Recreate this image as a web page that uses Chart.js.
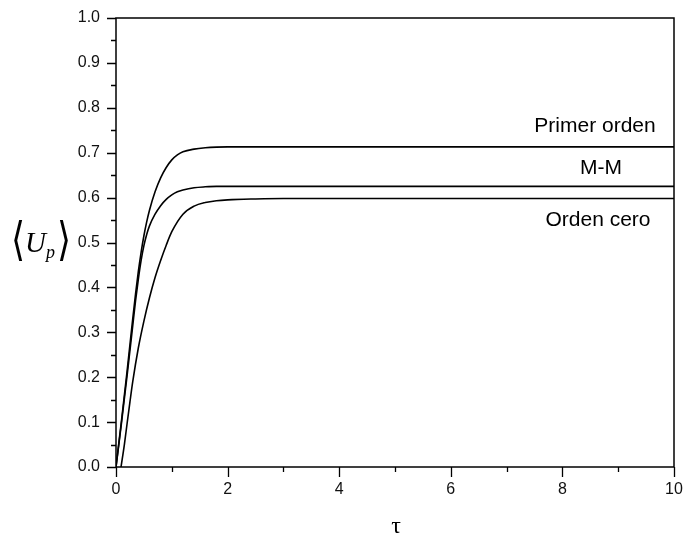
<!DOCTYPE html>
<html>
<head>
<meta charset="utf-8">
<script src="https://cdn.jsdelivr.net/npm/chart.js@4"></script>
<style>
  html, body { margin: 0; padding: 0; background: #fff; }
  #chart { display: block; }
</style>
</head>
<body>
<canvas id="chart" width="685" height="542"></canvas>
<script>
    // Values (tau on x, <Up> on y)
    const primerTau = [0, 0.1, 0.2, 0.3, 0.35, 0.4, 0.45, 0.5, 0.55, 0.6, 0.7, 0.8, 0.9, 1.0, 1.1, 1.2, 1.4, 1.6, 1.8, 2.0, 2.5, 3, 4, 6, 8, 10];
    const primerU = [0, 0.105, 0.215, 0.33, 0.385, 0.435, 0.478, 0.515, 0.546, 0.572, 0.613, 0.644, 0.667, 0.684, 0.695, 0.702, 0.708, 0.711, 0.7125, 0.713, 0.713, 0.713, 0.713, 0.713, 0.713, 0.713];

    const mmTau = [0, 0.1, 0.2, 0.3, 0.35, 0.4, 0.45, 0.5, 0.55, 0.6, 0.7, 0.8, 0.9, 1.0, 1.1, 1.2, 1.4, 1.6, 1.8, 2.0, 2.5, 3, 4, 6, 8, 10];
    const mmU = [0, 0.10, 0.205, 0.315, 0.37, 0.418, 0.46, 0.493, 0.518, 0.537, 0.563, 0.582, 0.596, 0.606, 0.613, 0.617, 0.622, 0.624, 0.625, 0.625, 0.625, 0.625, 0.625, 0.625, 0.625, 0.625];

    const ceroTau = [0.09, 0.15, 0.2, 0.25, 0.3, 0.4, 0.5, 0.6, 0.7, 0.8, 0.9, 1.0, 1.2, 1.4, 1.6, 1.8, 2.0, 2.5, 3, 4, 6, 8, 10];
    const ceroU = [0, 0.05, 0.098, 0.145, 0.19, 0.265, 0.325, 0.377, 0.422, 0.46, 0.494, 0.524, 0.563, 0.581, 0.589, 0.593, 0.595, 0.597, 0.598, 0.598, 0.598, 0.598, 0.598];

    const seriesNames = ['Primer orden', 'M-M', 'Orden cero'];

    // axis ranges and tick steps
    const xRange = [0, 10];
    const yRange = [0, 1];
    const xMajorStep = 2;
    const xMinorStep = 1;
    const yMajorStep = 0.1;
    const yMinorStep = 0.05;

    function toPoints(xs, ys) {
        return xs.map((x, i) => ({ x: x, y: ys[i] }));
    }

    const tickFont = { family: '"Liberation Sans", Arial, sans-serif', size: 16 };

    // frame, minor/major tick marks and the annotation texts
    const framePlugin = {
        id: 'frame',
        afterDraw(chart) {
            const ctx = chart.ctx;
            const area = chart.chartArea;
            const xs = chart.scales.x;
            const ys = chart.scales.y;
            ctx.save();
            ctx.strokeStyle = '#000';
            ctx.lineWidth = 1.5;
            ctx.strokeRect(area.left, area.top, area.right - area.left, area.bottom - area.top);

            ctx.lineWidth = 1.3;
            ctx.beginPath();
            const nY = Math.round((yRange[1] - yRange[0]) / yMinorStep);
            for (let i = 0; i <= nY; i++) {
                const py = Math.round(ys.getPixelForValue(yRange[0] + i * yMinorStep)) + 0.5;
                const len = i % 2 === 0 ? 9 : 5;
                ctx.moveTo(area.left, py);
                ctx.lineTo(area.left - len, py);
            }
            const nX = Math.round((xRange[1] - xRange[0]) / xMinorStep);
            for (let i = 0; i <= nX; i++) {
                const px = Math.round(xs.getPixelForValue(xRange[0] + i * xMinorStep)) + 0.5;
                const len = i % 2 === 0 ? 10 : 5;
                ctx.moveTo(px, area.bottom);
                ctx.lineTo(px, area.bottom + len);
            }
            ctx.stroke();

            // series labels
            ctx.fillStyle = '#000';
            ctx.font = '21px "Liberation Sans", Arial, sans-serif';
            ctx.textAlign = 'center';
            ctx.textBaseline = 'alphabetic';
            ctx.fillText(seriesNames[0], 595, 132);
            ctx.fillText(seriesNames[1], 601, 174);
            ctx.fillText(seriesNames[2], 598, 226);

            // x axis title
            ctx.font = '24px "Liberation Serif", "Times New Roman", serif';
            ctx.fillText('τ', 396, 533);

            // y axis title <U_p>
            ctx.textAlign = 'left';
            ctx.font = 'italic 29px "Liberation Serif", "Times New Roman", serif';
            ctx.fillText('U', 25, 252);
            ctx.font = 'italic 18px "Liberation Serif", "Times New Roman", serif';
            ctx.fillText('p', 46, 258);
            ctx.font = '200 40px "DejaVu Sans", sans-serif';
            ctx.save();
            ctx.translate(0, 243);
            ctx.scale(0.9, 1.15);
            ctx.textBaseline = 'middle';
            ctx.fillText('⟨', 12, 0);
            ctx.fillText('⟩', 63, 0);
            ctx.restore();
            ctx.restore();
        }
    };

    function lineSet(label, xs, ys) {
        return {
            label: label,
            data: toPoints(xs, ys),
            borderColor: '#000',
            borderWidth: 1.6,
            pointRadius: 0,
            fill: false,
            cubicInterpolationMode: 'monotone'
        };
    }

    const ctx = document.getElementById('chart').getContext('2d');
    const chart = new Chart(ctx, {
        type: 'line',
        data: {
            datasets: [
                lineSet(seriesNames[0], primerTau, primerU),
                lineSet(seriesNames[1], mmTau, mmU),
                lineSet(seriesNames[2], ceroTau, ceroU)
            ]
        },
        options: {
            responsive: false,
            animation: false,
            layout: { padding: { top: 18, right: 11, left: 0, bottom: 0 } },
            plugins: {
                legend: { display: false },
                tooltip: { enabled: false }
            },
            scales: {
                x: {
                    type: 'linear',
                    min: xRange[0],
                    max: xRange[1],
                    grid: { display: false, drawTicks: false },
                    border: { display: false },
                    ticks: {
                        stepSize: xMajorStep,
                        padding: 13,
                        color: '#111',
                        font: tickFont,
                        maxRotation: 0
                    },
                    afterFit(scale) {
                        scale.height = 75;
                        scale.paddingLeft = 0;
                        scale.paddingRight = 0;
                    }
                },
                y: {
                    type: 'linear',
                    min: yRange[0],
                    max: yRange[1],
                    grid: { display: false, drawTicks: false },
                    border: { display: false },
                    ticks: {
                        stepSize: yMajorStep,
                        padding: 16,
                        color: '#111',
                        font: tickFont,
                        callback: v => v.toFixed(1)
                    },
                    afterFit(scale) {
                        scale.width = 116;
                        scale.paddingTop = 0;
                        scale.paddingBottom = 0;
                    }
                }
            }
        },
        plugins: [framePlugin]
    });
</script>
</body>
</html>
